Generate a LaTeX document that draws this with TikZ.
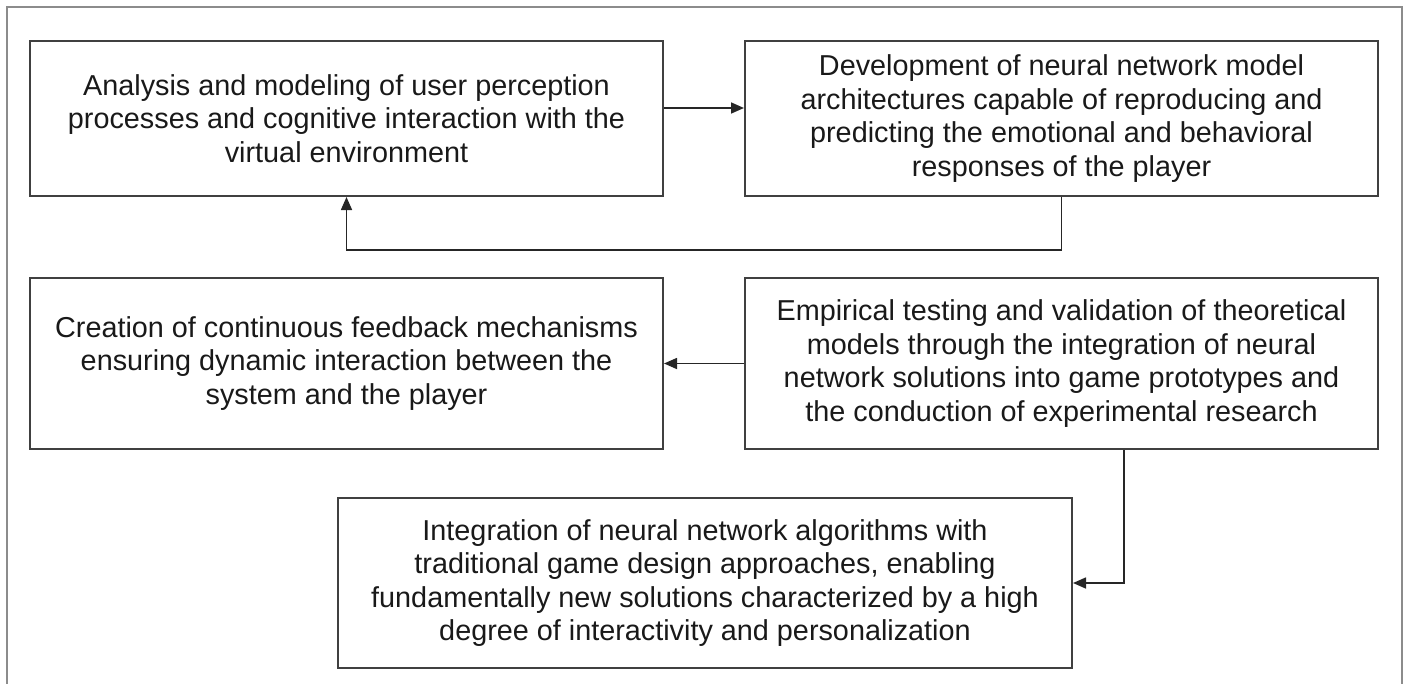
\documentclass[tikz,border=0pt]{standalone}
\usepackage{fontspec}
\setmainfont{Liberation Sans}
\usetikzlibrary{arrows.meta}
\begin{document}
\begin{tikzpicture}[x=1pt,y=-1pt,
  stepbox/.style={draw=black!75,line width=2pt,align=center,inner sep=0pt,
    font=\fontsize{28.8}{33.5}\selectfont,text=black!90},
  arr/.style={draw=black!85,line width=1.6pt,-{Triangle[length=13pt,width=11pt]}},
  frame/.style={draw=black!45,line width=2pt}]
\useasboundingbox (0,0) rectangle (1405,683);
\draw[frame] (7,690) -- (7,7) -- (1402,7) -- (1402,690);
\node[stepbox,minimum width=633pt,minimum height=155pt] (A) at (346.5,118.5)
  {Analysis and modeling of user perception\\processes and cognitive interaction with the\\virtual environment};
\node[stepbox,minimum width=633pt,minimum height=155pt] (B) at (1061.5,118.5)
  {Development of neural network model\\architectures capable of reproducing and\\predicting the emotional and behavioral\\responses of the player};
\node[stepbox,minimum width=633pt,minimum height=171pt] (C) at (346.5,363.5)
  {Creation of continuous feedback mechanisms\\ensuring dynamic interaction between the\\system and the player};
\node[stepbox,minimum width=633pt,minimum height=171pt] (D) at (1061.5,363.5)
  {Empirical testing and validation of theoretical\\models through the integration of neural\\network solutions into game prototypes and\\the conduction of experimental research};
\node[stepbox,minimum width=734pt,minimum height=170pt] (E) at (705,583)
  {Integration of neural network algorithms with\\traditional game design approaches, enabling\\fundamentally new solutions characterized by a high\\degree of interactivity and personalization};
\draw[arr] ([yshift=10.5pt]A.east) -- ([yshift=10.5pt]B.west);
\draw[arr] (B.south) -- ++(0,53) -| (A.south);
\draw[arr] (D.west) -- (C.east);
\draw[arr] ([xshift=62.5pt]D.south) |- (E.east);
\end{tikzpicture}
\end{document}
